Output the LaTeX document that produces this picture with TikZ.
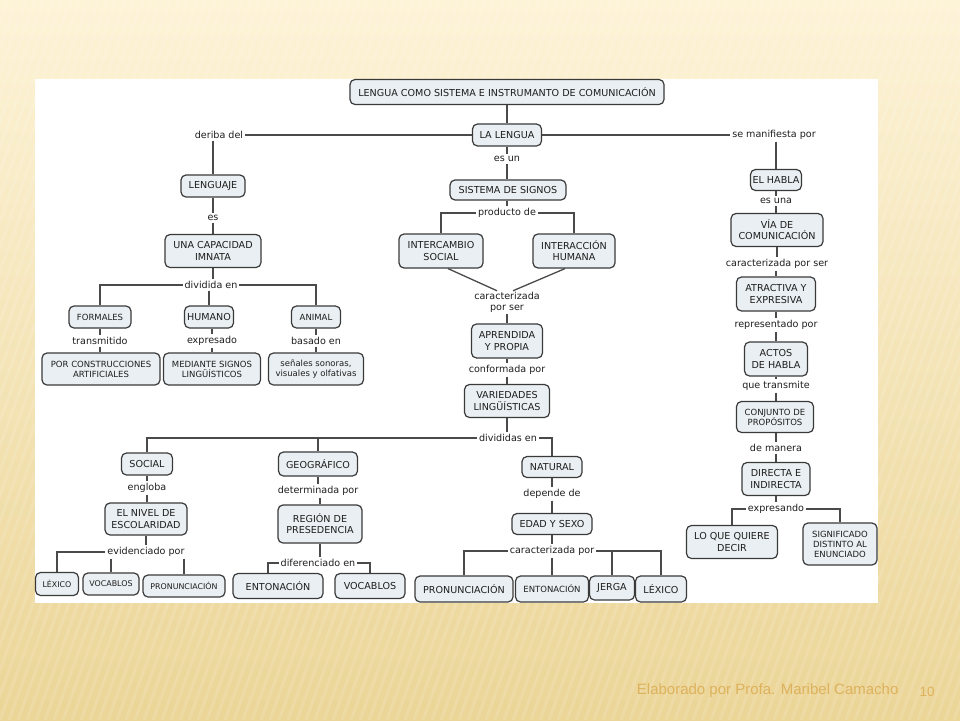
\documentclass[tikz,border=0pt]{standalone}
\usepackage{fontspec}
\setmainfont{DejaVu Sans}
\newfontfamily\footfont{Liberation Sans}
\usetikzlibrary{calc}
\definecolor{bgtop}{HTML}{FDF3D7}
\definecolor{bgmid}{HTML}{FAEBC0}
\definecolor{bgbot}{HTML}{EBD597}
\definecolor{boxfill}{HTML}{E9EFF2}
\definecolor{boxline}{HTML}{3A3A3A}
\definecolor{conn}{HTML}{4A4A4A}
\definecolor{txt}{HTML}{1E1E1E}
\definecolor{foot}{HTML}{DDB25C}
\newcommand\fsn{\fontsize{9.6}{11.2}\selectfont}
\newcommand\fss{\fontsize{8.5}{10}\selectfont}
\newcommand\fst{\fontsize{7.9}{9.2}\selectfont}
\begin{document}
\begin{tikzpicture}[x=1pt,y=-1pt,
  cbox/.style={draw=boxline, line width=1.2pt, fill=boxfill, rounded corners=5pt,
    align=center, font=\fsn, text=txt, inner sep=1pt},
  lab/.style={font=\fsn, text=txt, inner sep=1.8pt, align=center},
  cn/.style={draw=conn, line width=1.3pt}]
\useasboundingbox (0,0) rectangle (960,720);
\shade[top color=bgtop, middle color=bgmid, bottom color=bgbot] (0,0) rectangle (960,720);
\begin{scope}
\clip (0,0) rectangle (960,720);
\foreach \i in {-60,...,110} {
  \draw[white, opacity=0.12, line width=3pt] (\i*9,720) -- ++(260,-720);
}
\end{scope}
\fill[white] (35,79) rectangle (878,603);

% ---- nodes: top
\node[cbox, minimum width=314, minimum height=25] (title) at (507,92) {LENGUA COMO SISTEMA E INSTRUMANTO DE COMUNICACIÓN};
\node[cbox, minimum width=69, minimum height=22] (lalengua) at (507,135) {LA LENGUA};
\node[lab] (deriba) at (219,135) {deriba del};
\node[lab] (semanif) at (774,135) {se manifiesta por};

% ---- left column
\node[cbox, minimum width=64, minimum height=22] (lenguaje) at (213,186) {LENGUAJE};
\node[lab] (es) at (213,218) {es};
\node[cbox, minimum width=96, minimum height=33] (capac) at (213,251) {UNA CAPACIDAD\\IMNATA};
\node[lab] (dividida) at (211,285) {dividida en};
\node[cbox, font=\fss, minimum width=62, minimum height=22] (formales) at (100,317) {FORMALES};
\node[cbox, minimum width=49, minimum height=22] (humano) at (209,317) {HUMANO};
\node[cbox, font=\fss, minimum width=49, minimum height=22] (animal) at (316,317) {ANIMAL};
\node[lab] (transmitido) at (100,341) {transmitido};
\node[lab] (expresado) at (212,341) {expresado};
\node[lab] (basado) at (316,341) {basado en};
\node[cbox, font=\fss, minimum width=118, minimum height=32] (porcons) at (101,369) {POR CONSTRUCCIONES\\ARTIFICIALES};
\node[cbox, font=\fss, minimum width=97, minimum height=32] (mediante) at (212,369) {MEDIANTE SIGNOS\\LINGÜÍSTICOS};
\node[cbox, font=\fss, minimum width=95, minimum height=32] (senales) at (316,369) {señales sonoras,\\visuales y olfativas};

% ---- middle column
\node[lab] (esun) at (507,159) {es un};
\node[cbox, minimum width=116, minimum height=20] (sistema) at (508,190) {SISTEMA DE SIGNOS};
\node[lab] (producto) at (507,213) {producto de};
\node[cbox, minimum width=84, minimum height=34] (intercambio) at (441,251) {INTERCAMBIO\\SOCIAL};
\node[cbox, minimum width=82, minimum height=34] (interaccion) at (574,251) {INTERACCIÓN\\HUMANA};
\node[lab] (caract) at (507,302) {caracterizada\\por ser};
\node[cbox, minimum width=71, minimum height=34] (aprendida) at (507,341) {APRENDIDA\\Y PROPIA};
\node[lab] (conformada) at (507,370) {conformada por};
\node[cbox, minimum width=85, minimum height=33] (variedades) at (507,401) {VARIEDADES\\LINGÜÍSTICAS};
\node[lab] (divididas) at (508,438) {divididas en};

% ---- social
\node[cbox, minimum width=51, minimum height=22] (social) at (147,464) {SOCIAL};
\node[lab] (engloba) at (147,488) {engloba};
\node[cbox, minimum width=82, minimum height=32] (nivel) at (146,519) {EL NIVEL DE\\ESCOLARIDAD};
\node[lab] (evidenciado) at (146,552) {evidenciado por};
\node[cbox, font=\fst, minimum width=43, minimum height=23] (lexicoa) at (57,584) {LÉXICO};
\node[cbox, font=\fst, minimum width=56, minimum height=22] (vocaba) at (111,584) {VOCABLOS};
\node[cbox, font=\fst, minimum width=82, minimum height=22] (prona) at (184,586) {PRONUNCIACIÓN};

% ---- geografico
\node[cbox, minimum width=79, minimum height=24] (geo) at (318,464) {GEOGRÁFICO};
\node[lab] (determinada) at (318,491) {determinada por};
\node[cbox, minimum width=84, minimum height=38] (region) at (320,524) {REGIÓN DE\\PRESEDENCIA};
\node[lab] (diferenciado) at (318,563) {diferenciado en};
\node[cbox, minimum width=90, minimum height=25] (entona) at (278,586) {ENTONACIÓN};
\node[cbox, minimum width=70, minimum height=25] (vocabb) at (370,586) {VOCABLOS};

% ---- natural
\node[cbox, minimum width=60, minimum height=21] (natural) at (552,467) {NATURAL};
\node[lab] (depende) at (552,494) {depende de};
\node[cbox, minimum width=80, minimum height=21] (edad) at (552,524) {EDAD Y SEXO};
\node[lab] (caractb) at (552,551) {caracterizada por};
\node[cbox, minimum width=98, minimum height=26] (pronb) at (464,589) {PRONUNCIACIÓN};
\node[cbox, font=\fss, minimum width=73, minimum height=26] (entonb) at (552,589) {ENTONACIÓN};
\node[cbox, minimum width=45, minimum height=24] (jerga) at (612,588) {JERGA};
\node[cbox, minimum width=51, minimum height=26] (lexicob) at (661,589) {LÉXICO};

% ---- right column
\node[cbox, minimum width=51, minimum height=21] (elhabla) at (776,180) {EL HABLA};
\node[lab] (esuna) at (776,201) {es una};
\node[cbox, minimum width=92, minimum height=33] (via) at (777,230) {VÍA DE\\COMUNICACIÓN};
\node[lab] (caracser) at (777,264) {caracterizada por ser};
\node[cbox, minimum width=79, minimum height=34] (atractiva) at (776,294) {ATRACTIVA Y\\EXPRESIVA};
\node[lab] (representado) at (776,325) {representado por};
\node[cbox, minimum width=63, minimum height=34] (actos) at (776,359) {ACTOS\\DE HABLA};
\node[lab] (quetrans) at (776,386) {que transmite};
\node[cbox, font=\fss, minimum width=77, minimum height=31] (conjunto) at (775,417) {CONJUNTO DE\\PROPÓSITOS};
\node[lab] (demanera) at (776,448) {de manera};
\node[cbox, minimum width=68, minimum height=33] (directa) at (776,479) {DIRECTA E\\INDIRECTA};
\node[lab] (expresando) at (776,509) {expresando};
\node[cbox, minimum width=91, minimum height=33] (loque) at (732,542) {LO QUE QUIERE\\DECIR};
\node[cbox, font=\fss, minimum width=74, minimum height=42] (signif) at (840,544) {SIGNIFICADO\\DISTINTO AL\\ENUNCIADO};

% ---- connectors
\draw[cn] (title.south) -- (lalengua.north);
\draw[cn] (lalengua.west) -- (deriba.east);
\draw[cn] (lalengua.east) -- (semanif.west);
\draw[cn] (deriba.south -| lenguaje.north) -- (lenguaje.north);
\draw[cn] (semanif.south -| elhabla.north) -- (elhabla.north);

\draw[cn] (lenguaje.south) -- (es.north);
\draw[cn] (es.south) -- (capac.north);
\draw[cn] (capac.south) -- (capac.south |- dividida.north);
\draw[cn] (dividida.west) -| (formales.north);
\draw[cn] (dividida.east) -| (animal.north);
\draw[cn] (dividida.south -| humano.north) -- (humano.north);
\draw[cn] (formales.south) -- (formales.south |- transmitido.north);
\draw[cn] (transmitido.south) -- (transmitido.south |- porcons.north);
\draw[cn] (humano.south -| expresado.north) -- (expresado.north);
\draw[cn] (expresado.south) -- (expresado.south |- mediante.north);
\draw[cn] (animal.south) -- (basado.north);
\draw[cn] (basado.south) -- (senales.north);

\draw[cn] (lalengua.south) -- (esun.north);
\draw[cn] (esun.south) -- (esun.south |- sistema.north);
\draw[cn] (sistema.south -| producto.north) -- (producto.north);
\draw[cn] (producto.west) -| (intercambio.north);
\draw[cn] (producto.east) -| (interaccion.north);
\draw[cn] ($(intercambio.south)+(7,0)$) -- ($(caract.north)+(-10,1)$);
\draw[cn] ($(interaccion.south)+(-9,0)$) -- ($(caract.north)+(6,1)$);
\draw[cn] (caract.south) -- (aprendida.north);
\draw[cn] (aprendida.south) -- (conformada.north);
\draw[cn] (conformada.south) -- (variedades.north);
\draw[cn] (variedades.south) -- (variedades.south |- divididas.north);
\draw[cn] (divididas.west) -| (social.north);
\draw[cn] (geo.north |- divididas.west) -- (geo.north);
\draw[cn] (divididas.east) -| (natural.north);

\draw[cn] (social.south) -- (engloba.north);
\draw[cn] (engloba.south) -- (engloba.south |- nivel.north);
\draw[cn] (nivel.south) -- (nivel.south |- evidenciado.north);
\draw[cn] (evidenciado.west) -| (lexicoa.north);
\draw[cn] (evidenciado.south -| vocaba.north) -- (vocaba.north);
\draw[cn] (evidenciado.south -| prona.north) -- (prona.north);

\draw[cn] (geo.south) -- (geo.south |- determinada.north);
\draw[cn] (determinada.south -| region.north) -- (region.north);
\draw[cn] (region.south) -- (region.south |- diferenciado.north);
\draw[cn] (diferenciado.west) -| ($(entona.north)+(-10,0)$);
\draw[cn] (diferenciado.east) -| (vocabb.north);

\draw[cn] (natural.south) -- (depende.north);
\draw[cn] (depende.south) -- (edad.north);
\draw[cn] (edad.south) -- (caractb.north);
\draw[cn] (caractb.west) -| (pronb.north);
\draw[cn] (caractb.south -| entonb.north) -- (entonb.north);
\draw[cn] (caractb.east) -| (lexicob.north);
\draw[cn] (jerga.north |- caractb.east) -- (jerga.north);

\draw[cn] (elhabla.south) -- (esuna.north);
\draw[cn] (esuna.south) -- (esuna.south |- via.north);
\draw[cn] (via.south) -- (via.south |- caracser.north);
\draw[cn] (caracser.south -| atractiva.north) -- (atractiva.north);
\draw[cn] (atractiva.south) -- (representado.north);
\draw[cn] (representado.south) -- (actos.north);
\draw[cn] (actos.south) -- (quetrans.north);
\draw[cn] (quetrans.south) -- (quetrans.south |- conjunto.north);
\draw[cn] (conjunto.south -| demanera.north) -- (demanera.north);
\draw[cn] (demanera.south) -- (directa.north);
\draw[cn] (directa.south) -- (expresando.north);
\draw[cn] (expresando.west) -| (loque.north);
\draw[cn] (expresando.east) -| (signif.north);

% ---- footer
\node[font=\footfont\fontsize{15}{17}\selectfont, text=foot, anchor=east] (footer) at (902,691) {Elaborado por Profa. Maribel Camacho};
\node[font=\footfont\fontsize{13.5}{15}\selectfont, text=foot] (pagenum) at (927,692) {10};
\end{tikzpicture}
\end{document}
